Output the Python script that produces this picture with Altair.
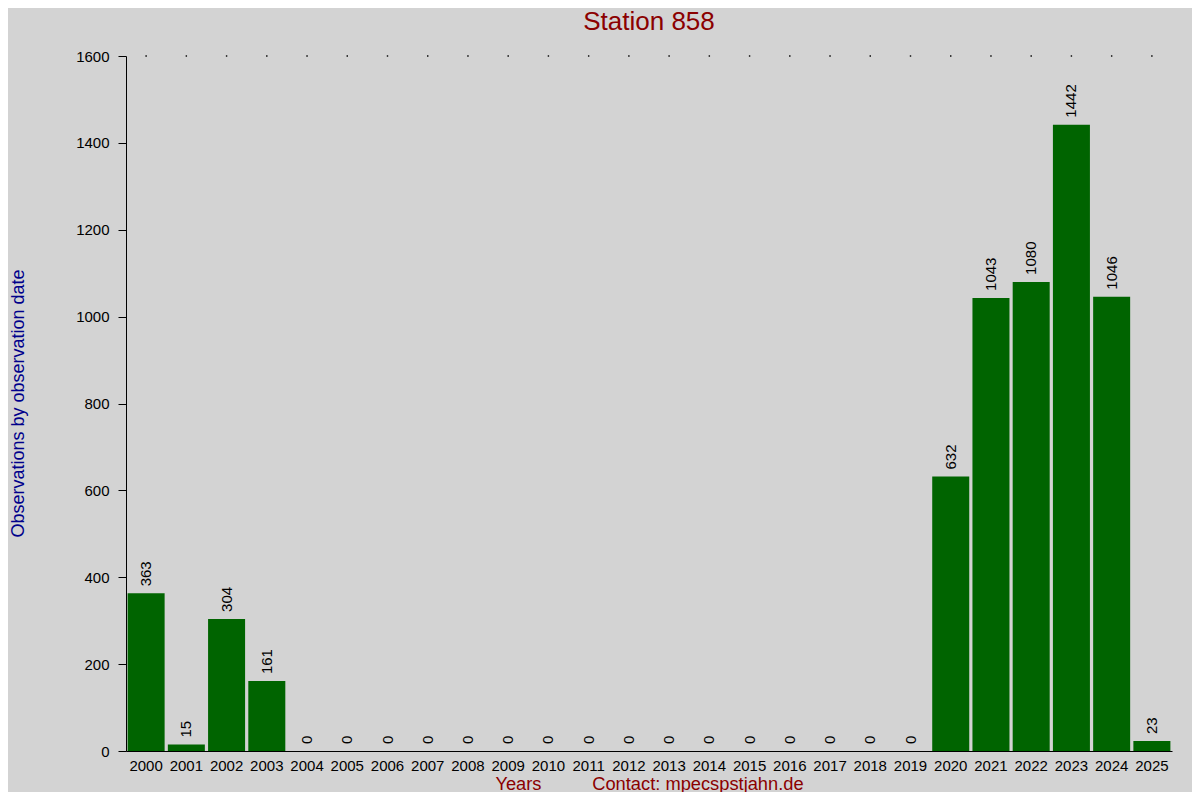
import altair as alt
import pandas as pd

years = [str(y) for y in range(2000, 2026)]
counts = [363, 15, 304, 161, 0, 0, 0, 0, 0, 0, 0, 0, 0, 0, 0, 0, 0, 0, 0, 0,
          632, 1043, 1080, 1442, 1046, 23]

df = pd.DataFrame({"year": years, "count": counts})

FONT = "Liberation Sans"
xscale = alt.Scale(paddingInner=0.08, paddingOuter=0.04)
yscale = alt.Scale(domain=[0, 1600], nice=False)

x_title = "Years" + "\u00a0" * 10 + "Contact: mpecspstjahn.de"

base = alt.Chart(df)

bars = base.mark_bar(color="#006400").encode(
    x=alt.X("year:N", scale=xscale, sort=years,
            axis=alt.Axis(title=x_title, labelAngle=0, ticks=False, tickSize=0,
                          labelFontSize=15, labelColor="black", labelFont=FONT,
                          labelPadding=19, labelBaseline="alphabetic",
                          domainColor="black",
                          titleColor="#8B0000", titleFontSize=18.3,
                          titleFont=FONT, titleFontWeight="normal",
                          titleY=38, titleBaseline="alphabetic")),
    y=alt.Y("count:Q", scale=yscale,
            axis=alt.Axis(title="Observations by observation date",
                          values=list(range(0, 1601, 200)), format="d",
                          grid=False,
                          tickSize=8, tickColor="black", domainColor="black",
                          labelFontSize=15, labelColor="black", labelFont=FONT,
                          labelPadding=9,
                          titleColor="#00008B", titleFontSize=18,
                          titleFont=FONT, titleFontWeight="normal",
                          titleX=-108, titleY=347, titleAngle=-90,
                          titleAlign="center", titleBaseline="middle")),
)

labels = base.mark_text(angle=270, align="left", baseline="middle", dx=7,
                        fontSize=15, font=FONT, color="black").encode(
    x=alt.X("year:N", scale=xscale, sort=years),
    y=alt.Y("count:Q", scale=yscale),
    text="count:Q",
)

dots = base.mark_square(size=2, color="black", opacity=1).encode(
    x=alt.X("year:N", scale=xscale, sort=years),
    y=alt.datum(1600),
)

chart = alt.layer(bars, labels, dots).properties(
    width=1046,
    height=695,
    background="#D3D3D3",
    padding={"left": 118, "top": 48, "right": 20, "bottom": 41},
    autosize=alt.AutoSizeParams(type="none"),
    title=alt.TitleParams("Station 858", color="#8B0000", fontSize=26,
                          font=FONT, fontWeight="normal", anchor="middle",
                          offset=14),
).configure_view(stroke=None)

chart.save("out.html", embed_options={"renderer": "svg", "actions": False})
